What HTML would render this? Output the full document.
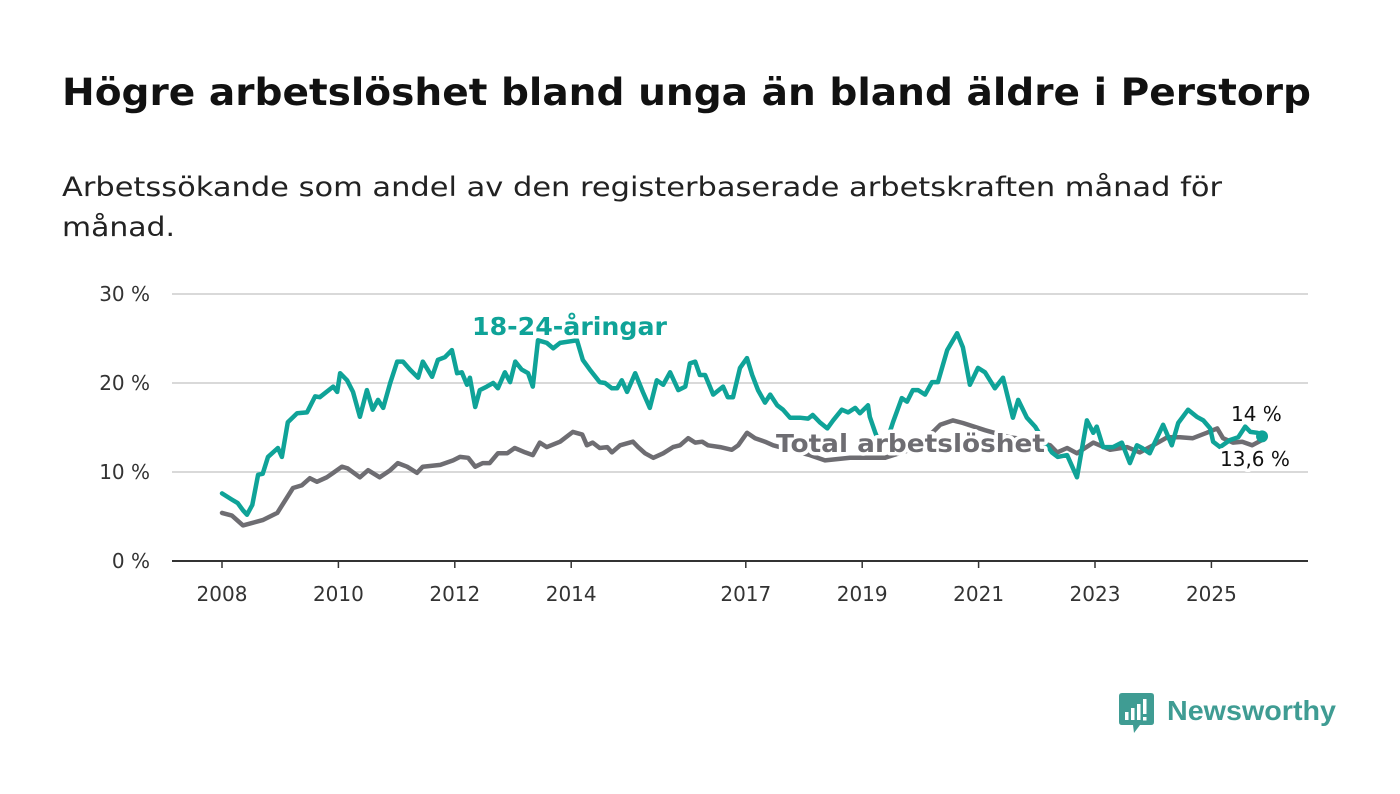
<!DOCTYPE html>
<html><head><meta charset="utf-8">
<style>
html,body{margin:0;padding:0;background:#fff;width:1400px;height:794px;overflow:hidden}
svg{display:block;font-family:"DejaVu Sans","Liberation Sans",sans-serif}
.halo{paint-order:stroke;stroke:#fff;stroke-width:7px;stroke-linejoin:round}
</style></head>
<body>
<svg id="chart" width="1400" height="794" viewBox="0 0 1400 794" xmlns="http://www.w3.org/2000/svg">
  <text x="62" y="105" font-size="37" font-weight="bold" fill="#111" textLength="1249" lengthAdjust="spacingAndGlyphs">Högre arbetslöshet bland unga än bland äldre i Perstorp</text>
  <text x="62" y="196" font-size="27" fill="#222" textLength="1160" lengthAdjust="spacingAndGlyphs">Arbetssökande som andel av den registerbaserade arbetskraften månad för</text>
  <text x="62" y="236" font-size="27" fill="#222" textLength="113" lengthAdjust="spacingAndGlyphs">månad.</text>
  <g id="grid"></g>
  <g id="yticks"></g>
  <g id="xticks"></g>
  <g id="series"></g>
  <g id="labels"></g>
  <g>
    <path d="M1122 693 H1151 Q1154 693 1154 696 V722 Q1154 725 1151 725 H1140 L1134 733 L1133 725 H1122 Q1119 725 1119 722 V696 Q1119 693 1122 693 Z" fill="#3f9c93"/>
    <rect x="1125" y="712" width="3.5" height="8" fill="#fff"/>
    <rect x="1131" y="708" width="3.5" height="12" fill="#fff"/>
    <rect x="1137" y="704" width="3.5" height="16" fill="#fff"/>
    <rect x="1143" y="699" width="3.5" height="15" fill="#fff"/>
    <rect x="1143" y="717" width="3.5" height="3.5" fill="#fff"/>
    <text x="1167" y="720" font-size="28" font-weight="bold" fill="#3f9c93" font-family="Liberation Sans, sans-serif" textLength="169" lengthAdjust="spacingAndGlyphs">Newsworthy</text>
  </g>
</svg>
<script>
const yTicks = [0, 10, 20, 30];
const yTickLabels = ["0 %", "10 %", "20 %", "30 %"];
const xTicks = [2008, 2010, 2012, 2014, 2017, 2019, 2021, 2023, 2025];

const youthYears = [2008.00,2008.17,2008.27,2008.36,2008.43,2008.52,2008.62,2008.70,2008.79,2008.96,2009.03,2009.13,2009.29,2009.46,2009.60,2009.68,2009.91,2009.98,2010.03,2010.15,2010.25,2010.37,2010.49,2010.59,2010.68,2010.77,2010.89,2011.01,2011.11,2011.23,2011.37,2011.45,2011.61,2011.71,2011.83,2011.95,2012.04,2012.12,2012.21,2012.26,2012.35,2012.43,2012.55,2012.66,2012.74,2012.86,2012.95,2013.04,2013.15,2013.26,2013.34,2013.43,2013.58,2013.69,2013.81,2014.10,2014.20,2014.32,2014.49,2014.58,2014.70,2014.79,2014.87,2014.96,2015.10,2015.23,2015.35,2015.47,2015.58,2015.70,2015.84,2015.96,2016.04,2016.13,2016.21,2016.30,2016.44,2016.61,2016.69,2016.78,2016.90,2017.02,2017.11,2017.21,2017.33,2017.42,2017.54,2017.64,2017.76,2017.93,2018.07,2018.15,2018.27,2018.40,2018.50,2018.65,2018.76,2018.88,2018.96,2019.10,2019.13,2019.22,2019.31,2019.43,2019.53,2019.68,2019.77,2019.87,2019.96,2020.08,2020.20,2020.30,2020.46,2020.63,2020.73,2020.85,2020.99,2021.11,2021.28,2021.42,2021.59,2021.68,2021.83,2021.97,2022.11,2022.26,2022.36,2022.52,2022.69,2022.86,2022.97,2023.03,2023.14,2023.31,2023.46,2023.60,2023.72,2023.81,2023.94,2024.17,2024.32,2024.43,2024.60,2024.75,2024.86,2024.98,2025.03,2025.15,2025.32,2025.46,2025.58,2025.67,2025.79,2025.87];
const youthValues = [7.6,6.9,6.5,5.7,5.2,6.3,9.7,9.8,11.7,12.7,11.7,15.6,16.6,16.7,18.5,18.4,19.6,19.0,21.1,20.3,19.0,16.2,19.2,17.0,18.1,17.2,20.0,22.4,22.4,21.5,20.6,22.4,20.7,22.6,22.9,23.7,21.1,21.2,19.8,20.6,17.3,19.2,19.6,20.0,19.4,21.2,20.1,22.4,21.5,21.1,19.6,24.8,24.5,23.9,24.5,24.8,22.6,21.5,20.1,20.0,19.4,19.4,20.3,19.0,21.1,19.0,17.2,20.3,19.8,21.2,19.2,19.6,22.2,22.4,20.9,20.9,18.7,19.6,18.4,18.4,21.7,22.8,20.9,19.2,17.8,18.7,17.5,17.0,16.1,16.1,16.0,16.4,15.6,14.9,15.8,17.0,16.7,17.2,16.6,17.5,16.2,14.5,13.0,13.6,15.6,18.3,17.9,19.2,19.2,18.7,20.1,20.1,23.7,25.6,24.0,19.8,21.7,21.2,19.4,20.6,16.1,18.1,16.1,15.1,13.6,12.2,11.7,11.9,9.4,15.8,14.4,15.1,12.8,12.8,13.3,11.0,13.0,12.7,12.1,15.3,13.0,15.5,17.0,16.2,15.8,14.9,13.4,12.8,13.6,13.9,15.1,14.5,14.4,14.0];

const totalYears = [2008.00,2008.17,2008.36,2008.48,2008.70,2008.95,2009.22,2009.37,2009.51,2009.63,2009.80,2009.91,2010.06,2010.16,2010.37,2010.51,2010.71,2010.89,2011.02,2011.18,2011.35,2011.45,2011.75,2011.97,2012.09,2012.23,2012.35,2012.48,2012.60,2012.74,2012.90,2013.03,2013.21,2013.34,2013.46,2013.58,2013.81,2014.03,2014.19,2014.27,2014.37,2014.49,2014.62,2014.70,2014.84,2015.06,2015.15,2015.27,2015.41,2015.58,2015.75,2015.87,2016.01,2016.13,2016.25,2016.35,2016.56,2016.76,2016.87,2017.02,2017.16,2017.33,2017.47,2017.76,2018.10,2018.36,2018.79,2019.13,2019.39,2019.82,2020.17,2020.34,2020.56,2020.73,2021.11,2021.54,2021.88,2022.23,2022.35,2022.52,2022.69,2022.97,2023.26,2023.55,2023.77,2024.00,2024.24,2024.46,2024.68,2024.92,2025.10,2025.20,2025.37,2025.53,2025.70,2025.87];
const totalValues = [5.4,5.1,4.0,4.2,4.6,5.4,8.2,8.5,9.3,8.9,9.4,9.9,10.6,10.4,9.4,10.2,9.4,10.2,11.0,10.6,9.9,10.6,10.8,11.3,11.7,11.6,10.6,11.0,11.0,12.1,12.1,12.7,12.2,11.9,13.3,12.8,13.4,14.5,14.2,13.0,13.3,12.7,12.8,12.2,13.0,13.4,12.8,12.1,11.6,12.1,12.8,13.0,13.8,13.3,13.4,13.0,12.8,12.5,13.0,14.4,13.8,13.4,13.0,12.5,11.9,11.3,11.6,11.6,11.6,12.5,14.2,15.3,15.8,15.5,14.7,13.9,13.6,13.0,12.2,12.7,12.1,13.3,12.5,12.8,12.2,13.0,13.9,13.9,13.8,14.4,14.9,13.8,13.3,13.4,13.0,13.6];

const NS = "http://www.w3.org/2000/svg";
const X0 = 222, PXY = 58.2, Y0 = 561, PXV = 8.9;
function xs(yr){ return X0 + (yr - 2008) * PXY; }
function ys(v){ return Y0 - v * PXV; }
function mk(tag, attrs, parent){
  const e = document.createElementNS(NS, tag);
  for (const k in attrs) e.setAttribute(k, attrs[k]);
  parent.appendChild(e); return e;
}
const grid = document.getElementById('grid');
const yt = document.getElementById('yticks');
const xt = document.getElementById('xticks');
yTicks.forEach((v, i) => {
  if (v > 0) {
    const g = mk('line', {x1:172, x2:1308, y1:ys(v), y2:ys(v), stroke:'#d9d9d9', 'stroke-width':2}, grid);
    
    
  }
  const t = mk('text', {x:150, y:ys(v)+7, 'text-anchor':'end', 'font-size':20, fill:'#333'}, yt);
  t.textContent = yTickLabels[i];
  
  
});
const ax = mk('line', {x1:172, x2:1308, y1:Y0, y2:Y0, stroke:'#333', 'stroke-width':2}, xt);


xTicks.forEach(yr => {
  const tk = mk('line', {x1:xs(yr), x2:xs(yr), y1:Y0, y2:Y0+7, stroke:'#333', 'stroke-width':1.5}, xt);
  
  
  const t = mk('text', {x:xs(yr), y:601, 'text-anchor':'middle', 'font-size':20, fill:'#333'}, xt);
  t.textContent = yr;
  
  
});
const ser = document.getElementById('series');
function linePath(yrs, vals){ return yrs.map((y,i)=>(i?'L':'M')+xs(y).toFixed(1)+' '+ys(vals[i]).toFixed(1)).join(' '); }
const pt = mk('path', {d:linePath(totalYears,totalValues), fill:'none', stroke:'#6e6d72', 'stroke-width':4.5, 'stroke-linejoin':'round', 'stroke-linecap':'round'}, ser);


const py = mk('path', {d:linePath(youthYears,youthValues), fill:'none', stroke:'#0fa398', 'stroke-width':4.5, 'stroke-linejoin':'round', 'stroke-linecap':'round'}, ser);


const ly = youthYears.length-1;
const dot = mk('circle', {cx:xs(youthYears[ly]), cy:ys(youthValues[ly]), r:6, fill:'#0fa398'}, ser);



const lab = document.getElementById('labels');
function label(txt, x, y, opts, name){
  const t = mk('text', Object.assign({x:x, y:y, class:'halo'}, opts), lab);
  t.textContent = txt;
  
  
}
label('18-24-åringar', 472, 335, {'font-size':25, 'font-weight':'bold', fill:'#0fa398', textLength:195, lengthAdjust:'spacingAndGlyphs'}, 'youth-series-label');
label('Total arbetslöshet', 776, 452, {'font-size':25, 'font-weight':'bold', fill:'#6e6d72', textLength:269, lengthAdjust:'spacingAndGlyphs'}, 'total-series-label');
label(String(youthValues[ly]).replace('.',',') + ' %', 1231, 421, {'font-size':20, fill:'#111'}, 'youth-end-value');
label(String(totalValues[totalValues.length-1]).replace('.',',') + ' %', 1220, 466, {'font-size':20, fill:'#111'}, 'total-end-value');
</script>
</body></html>
